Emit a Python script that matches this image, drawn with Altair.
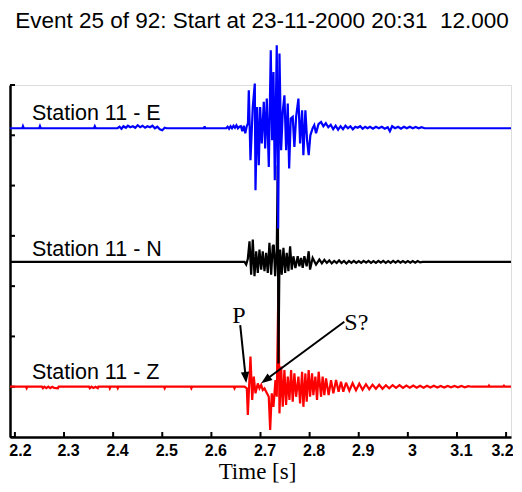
import altair as alt
import pandas as pd

TITLE = "Event 25 of 92: Start at 23-11-2000 20:31 \u00a012.000"
X_TICKS = [2.2, 2.3, 2.4, 2.5, 2.6, 2.7, 2.8, 2.9, 3.0, 3.1, 3.2]
Y_TICKS = [0, 5, 10, 15, 20, 25, 30, 35]

TRACES = ["Z", "N", "E"]  # drawing order
OFFSETS = {"E": 30.7, "N": 17.41, "Z": 5.0}
COLORS = {"E": "#0000ff", "N": "#000000", "Z": "#ff0000"}

STATION_LABELS = ["Station 11 - E", "Station 11 - N", "Station 11 - Z"]
STATION_T = [2.2347, 2.2347, 2.2347]
STATION_Y = [31.5, 17.95, 5.75]

# (time [s], amplitude) samples
E_SAMPLES = [
    (2.19, 0), (2.215, 0), (2.2164, 0.2), (2.218, 0), (2.2495, 0), (2.251, 0.2), (2.2525, 0),
    (2.361, 0), (2.3627, 0.2), (2.3645, 0),
    (2.409, 0), (2.413, 0.15), (2.417, -0.05), (2.421, 0.2), (2.426, 0.05), (2.430, 0.25),
    (2.435, 0.1), (2.440, 0.2), (2.445, 0.05), (2.450, 0.3), (2.455, 0.1), (2.460, 0.25),
    (2.465, 0.05), (2.470, 0.2), (2.475, 0.1), (2.480, 0.25), (2.485, 0.0), (2.490, 0.15),
    (2.495, -0.1), (2.500, -0.2), (2.505, 0.05), (2.509, 0),
    (2.585, 0), (2.5862, 0.2), (2.5875, 0),
    (2.630, 0), (2.633, 0.15), (2.636, -0.05), (2.639, 0.2), (2.642, 0), (2.645, 0.25),
    (2.648, 0.05), (2.651, 0.3), (2.654, 0), (2.657, 0.15), (2.660, 0.2), (2.663, -0.3),
    (2.666, 0.25), (2.669, -0.5), (2.672, 0.2), (2.6745, 0.5),
    (2.6762, 3.77), (2.6796, -3.18), (2.6843, 2.12), (2.6884, 4.44), (2.6898, -6.16),
    (2.6932, 2.12), (2.6965, -3.68), (2.6993, 2.12), (2.7026, -1.52), (2.7067, 2.62),
    (2.7095, -2.02), (2.7128, 2.95), (2.7169, -3.84), (2.7209, 7.75), (2.7237, -1.19),
    (2.7264, 5.60), (2.7291, -5.17), (2.7331, 8.25), (2.7359, -9.97), (2.7386, 7.42),
    (2.7420, -2.19), (2.7453, 1.62), (2.7487, 3.28), (2.7522, -2.19), (2.7555, 2.45),
    (2.7583, -4.0), (2.7616, 0.96), (2.7656, 1.13), (2.7690, -1.85), (2.7725, 1.13),
    (2.7772, 2.95), (2.7806, -1.52), (2.7847, 1.79), (2.7873, -2.68), (2.7914, 1.79),
    (2.7948, -1.19), (2.7981, -2.68), (2.8015, -0.70), (2.8062, 0.0), (2.8095, 0.3),
    (2.8131, -0.5), (2.8180, 0.4), (2.8233, 0.63),
    (2.8280, 0.2), (2.8330, 0.5), (2.8380, 0.1), (2.8430, 0.35), (2.8480, -0.1), (2.8530, 0.25),
    (2.8580, -0.15), (2.8630, 0.2), (2.8680, -0.1), (2.8730, 0.25), (2.8780, 0.0), (2.8830, 0.2),
    (2.8880, -0.1), (2.8930, 0.15), (2.8980, 0.05), (2.9030, 0.2), (2.9080, -0.05), (2.9130, 0.15),
    (2.9180, 0.0), (2.9230, 0.15), (2.9290, -0.05), (2.9350, 0.15), (2.9410, 0.0), (2.9470, 0.15),
    (2.9530, -0.05), (2.9590, 0.1), (2.9634, -0.3), (2.9680, 0.2), (2.9740, 0.0), (2.9800, 0.15),
    (2.9860, -0.05), (2.9920, 0.15), (2.9980, 0.0), (3.0040, 0.15), (3.0100, 0.0), (3.0160, 0.12),
    (3.0220, 0.0), (3.0280, 0.1), (3.0340, 0.0), (3.0370, 0.0), (3.21, 0),
]

N_SAMPLES = [
    (2.19, 0), (2.6634, 0), (2.6675, 0), (2.6709, -0.26), (2.6742, 0.3), (2.6776, 2.05),
    (2.6810, -1.26), (2.6843, 2.22), (2.6878, -1.42), (2.6912, 1.06), (2.6945, -1.09),
    (2.6979, 1.23), (2.7014, -0.76), (2.7046, 1.06), (2.7081, -0.93), (2.7115, 0.89),
    (2.7148, -1.09), (2.7182, 1.89), (2.7217, -1.26), (2.7249, 1.56), (2.7270, 1.7),
    (2.7298, -1.42), (2.7331, 1.2), (2.7351, 9.6), (2.7365, -10.1), (2.7386, 0.3),
    (2.7400, 1.23), (2.7432, -1.26), (2.7467, 1.39), (2.7502, -1.09), (2.7534, 0.89),
    (2.7568, -0.93), (2.7603, 1.56), (2.7636, -0.76), (2.7670, 0.56), (2.7711, -0.6),
    (2.7757, 0.56), (2.7792, -0.43), (2.7826, 0.4), (2.7859, -0.6), (2.7893, 0.56),
    (2.7940, -0.43), (2.7981, 1.06), (2.8009, -0.76), (2.8062, 0.4), (2.8131, -0.26),
    (2.8198, 0.23), (2.8250, -0.15), (2.8300, 0.2), (2.8350, -0.1), (2.8400, 0.15),
    (2.8450, -0.15), (2.8500, 0.1), (2.8550, -0.1), (2.8600, 0.15), (2.8650, -0.1),
    (2.8700, 0.1), (2.8750, -0.15), (2.8800, 0.1), (2.8850, -0.1), (2.8900, 0.1),
    (2.8950, -0.1), (2.9000, 0.08), (2.9050, -0.1), (2.9100, 0.1), (2.9150, -0.08),
    (2.9200, 0.1), (2.9250, -0.1), (2.9300, 0.08), (2.9350, -0.1), (2.9400, 0.1),
    (2.9450, -0.08), (2.9500, 0.1), (2.9550, -0.1), (2.9600, 0.08), (2.9650, -0.1),
    (2.9700, 0.1), (2.9750, -0.08), (2.9800, 0.1), (2.9850, -0.08), (2.9900, 0.08),
    (2.9950, -0.08), (3.0000, 0.08), (3.0050, -0.08), (3.0100, 0.08), (3.0150, -0.08),
    (3.0200, 0.08), (3.0250, -0.05), (3.0300, 0.0), (3.21, 0),
]

Z_SAMPLES = [
    (2.19, 0), (2.2225, 0), (2.2239, -0.15), (2.2253, 0), (2.2550, 0), (2.2570, -0.15),
    (2.2600, 0), (2.2640, -0.15), (2.2680, 0), (2.2720, -0.15), (2.2760, 0), (2.2800, -0.12),
    (2.2875, -0.15), (2.2890, 0), (2.3510, 0), (2.3525, -0.15), (2.3560, 0), (2.3600, -0.12),
    (2.3640, 0), (2.3688, -0.15), (2.3700, 0), (2.3920, 0), (2.3932, -0.15), (2.3945, 0),
    (2.4080, 0), (2.4094, -0.15), (2.4108, 0), (2.5035, 0), (2.5049, -0.15), (2.5063, 0),
    (2.5578, 0), (2.5592, -0.15), (2.5606, 0), (2.6457, 0), (2.6471, -0.15), (2.6485, 0),
    (2.6675, 0), (2.6722, -0.17), (2.6742, -2.8), (2.6796, 3.0), (2.6831, -1.32),
    (2.6863, 1.0), (2.6898, -0.66), (2.6945, 0.33), (2.6979, -0.17), (2.7014, 0.17),
    (2.7046, -0.33), (2.7081, -0.17), (2.7115, -0.5), (2.7168, -1.0), (2.7197, -4.3),
    (2.7229, -0.66), (2.7264, -2.0), (2.7304, 0.66), (2.7331, -1.0), (2.7365, 10.1),
    (2.7386, -2.65), (2.7420, 2.0), (2.7453, -1.99), (2.7487, 1.66), (2.7521, -1.82),
    (2.7555, 1.0), (2.7589, -1.32), (2.7623, 1.66), (2.7656, -1.49), (2.7690, 1.32),
    (2.7725, -1.0), (2.7772, 1.0), (2.7806, -1.66), (2.7847, 1.49), (2.7873, -2.0),
    (2.7914, 1.32), (2.7940, -1.49), (2.7981, 1.66), (2.8009, -1.0), (2.8050, 1.32),
    (2.8076, -0.83), (2.8117, 1.0), (2.8151, -1.32), (2.8184, 1.49), (2.8233, -1.0),
    (2.8265, 1.0), (2.8300, -0.83), (2.8334, 0.83), (2.8387, -0.83), (2.8436, 0.66),
    (2.8483, -0.66), (2.8538, 0.66), (2.8590, -0.5), (2.8639, 0.5), (2.8686, -0.5),
    (2.8741, 0.4), (2.8808, -0.4), (2.8875, 0.35), (2.8944, -0.35), (2.9011, 0.3),
    (2.9078, -0.3), (2.9147, 0.25), (2.9214, -0.25), (2.9281, 0.2), (2.9350, -0.2),
    (2.9417, 0.2), (2.9484, -0.2), (2.9553, 0.15), (2.9620, -0.15), (2.9690, 0.15),
    (2.9760, -0.12), (2.9830, 0.15), (2.9900, -0.12), (2.9970, 0.12), (3.0040, -0.1),
    (3.0110, 0.12), (3.0180, -0.1), (3.0250, 0.1), (3.0320, -0.1), (3.0390, 0.1),
    (3.0460, -0.08), (3.0530, 0.1), (3.0600, -0.08), (3.0670, 0.08), (3.0740, -0.08),
    (3.0810, 0.08), (3.0880, -0.05), (3.0950, 0.08), (3.1020, -0.05), (3.1090, 0.08),
    (3.1160, -0.05), (3.1230, 0.05), (3.1300, 0.0), (3.1640, 0.0), (3.1652, 0.1),
    (3.1665, 0), (3.1940, 0), (3.1957, 0.1), (3.1975, 0), (3.21, 0),
]

SAMPLES = {"E": E_SAMPLES, "N": N_SAMPLES, "Z": Z_SAMPLES}

# arrow annotations (data coordinates)
ARROW_LABELS = ["P", "S?"]
ARROW_LABEL_T = [2.6563, 2.895]
ARROW_LABEL_Y = [12.08, 11.29]
ARROW_START_T = [2.6587, 2.8706]
ARROW_START_Y = [11.13, 11.46]
ARROW_END_T = [2.6699, 2.7095]
ARROW_END_Y = [5.87, 5.64]
ARROW_TIP_T = [2.6709, 2.7014]
ARROW_TIP_Y = [5.37, 5.34]
ARROW_ANGLE = [354, 53.5]

W, H = 501, 352
XS = alt.Scale(domain=[2.19, 3.21], nice=False, zero=False)
YS = alt.Scale(domain=[0, 35], nice=False, zero=False)

LABEL_OFFSET = {
    "condition": [
        {"test": "datum.value <= 2.21", "value": 5},
        {"test": "datum.value >= 3.19", "value": -4},
    ],
    "value": 4,
}

XAXIS = alt.Axis(
    values=X_TICKS, format="~g", ticks=False, grid=False,
    domainColor="black", domainWidth=2.5,
    labelFont="Liberation Sans", labelFontSize=16, labelFontWeight="bold",
    labelColor="black", labelPadding=5, labelFlush=False, labelOffset=LABEL_OFFSET,
    title="Time [s]", titleFont="Liberation Serif", titleFontSize=23,
    titleFontWeight="normal", titleColor="black",
    titleX=247, titleY=41, titleBaseline="alphabetic", titleAlign="center",
)
YAXIS = alt.Axis(
    values=Y_TICKS, labels=False, ticks=False, grid=False,
    domainColor="black", domainWidth=2.5, title=None,
)


def X(field="t"):
    return alt.X(f"{field}:Q", scale=XS, axis=XAXIS)


def Y(field="y"):
    return alt.Y(f"{field}:Q", scale=YS, axis=YAXIS)


layers = []

# inward tick marks
xt = pd.DataFrame({"t": X_TICKS})
layers.append(
    alt.Chart(xt).mark_rule(color="black", strokeWidth=2).encode(
        x=X(), y=alt.value(H - 5), y2=alt.value(H)
    )
)
yt = pd.DataFrame({"y": Y_TICKS})
layers.append(
    alt.Chart(yt).mark_rule(color="black", strokeWidth=2).encode(
        y=Y(), x=alt.value(0), x2=alt.value(5)
    )
)

for tr in TRACES:
    df = pd.DataFrame(SAMPLES[tr], columns=["t", "amp"])
    df["y"] = df["amp"] + OFFSETS[tr]
    layers.append(
        alt.Chart(df).mark_line(color=COLORS[tr], strokeWidth=2.2, strokeJoin="miter", strokeMiterLimit=3).encode(
            x=X(), y=Y(), order="t:Q"
        )
    )

st = pd.DataFrame({"t": STATION_T, "y": STATION_Y, "label": STATION_LABELS})
layers.append(
    alt.Chart(st).mark_text(
        align="left", baseline="alphabetic", font="Liberation Sans", fontSize=21.5, color="black"
    ).encode(x=X(), y=Y(), text="label:N")
)

arr = pd.DataFrame({
    "label": ARROW_LABELS, "lt": ARROW_LABEL_T, "ly": ARROW_LABEL_Y,
    "t": ARROW_START_T, "y": ARROW_START_Y, "t2": ARROW_END_T, "y2": ARROW_END_Y,
    "tt": ARROW_TIP_T, "ty": ARROW_TIP_Y, "ang": ARROW_ANGLE,
})
layers.append(
    alt.Chart(arr).mark_rule(color="black", strokeWidth=2).encode(
        x=X("t"), y=Y("y"), x2="t2:Q", y2="y2:Q"
    )
)
layers.append(
    alt.Chart(arr).mark_point(
        shape="M0,0L-0.38,-1L0.38,-1Z", filled=True, color="black", opacity=1, size=484
    ).encode(x=X("tt"), y=Y("ty"), angle=alt.Angle("ang:Q", scale=None))
)
layers.append(
    alt.Chart(arr).mark_text(
        align="center", baseline="middle", font="Liberation Serif", fontSize=24, color="black"
    ).encode(x=X("lt"), y=Y("ly"), text="label:N")
)

# chart title, placed above the plot area
ttl = pd.DataFrame({"label": [TITLE]})
layers.append(
    alt.Chart(ttl).mark_text(
        align="center", baseline="alphabetic", font="Liberation Sans", fontSize=22.5, color="black"
    ).encode(x=alt.value(252), y=alt.value(-57), text="label:N")
)

chart = alt.layer(*layers).properties(
    width=W, height=H,
    autosize=alt.AutoSizeParams(type="none"),
    padding={"left": 2, "top": 77, "right": 2, "bottom": 46},
).configure_view(stroke=None).configure(background="white")

chart.save("out.html", embed_options={"renderer": "svg", "actions": False})
